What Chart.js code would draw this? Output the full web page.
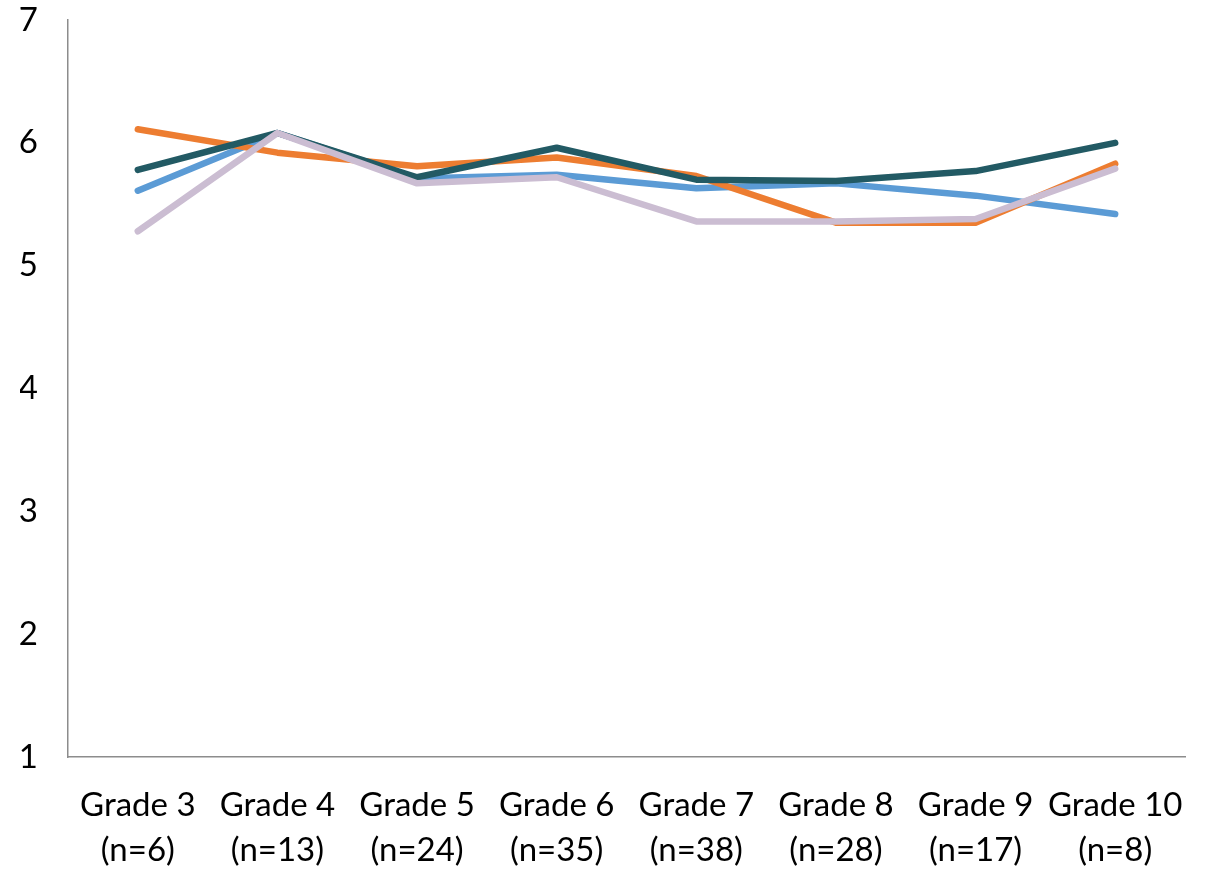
<!DOCTYPE html>
<html>
<head>
<meta charset="utf-8">
<script src="https://cdn.jsdelivr.net/npm/chart.js@4/dist/chart.umd.min.js"></script>
<style>
  html, body { margin: 0; padding: 0; background: #fff; }
  #wrap { width: 1216px; height: 872px; }
</style>
</head>
<body>
<div id="wrap"><canvas id="c" width="1216" height="872"></canvas></div>
<script>
const GRADES = ['Grade 3', 'Grade 4', 'Grade 5', 'Grade 6', 'Grade 7', 'Grade 8', 'Grade 9', 'Grade 10'];
const COUNTS = ['(n=6)', '(n=13)', '(n=24)', '(n=35)', '(n=38)', '(n=28)', '(n=17)', '(n=8)'];
const Y_TICKS = [1, 2, 3, 4, 5, 6, 7];

const blueSeries = [5.61, 6.08, 5.71, 5.74, 5.63, 5.67, 5.57, 5.42];
const orangeSeries = [6.11, 5.92, 5.81, 5.88, 5.73, 5.35, 5.35, 5.83];
const tealSeries = [5.78, 6.08, 5.72, 5.96, 5.70, 5.69, 5.77, 6.00];
const lavenderSeries = [5.28, 6.08, 5.67, 5.72, 5.36, 5.36, 5.38, 5.79];

const FONT = { family: 'Lato, "Open Sans", sans-serif', size: 33, lineHeight: 1.36 };

// последний в списке рисуется снизу — order задаёт порядок явно
const line = (data, color, order) => ({
    data,
    borderColor: color,
    backgroundColor: color,
    borderWidth: 6.5,
    borderCapStyle: 'round',
    borderJoinStyle: 'round',
    pointRadius: 0,
    tension: 0,
    fill: false,
    order,
});

new Chart(document.getElementById('c'), {
    type: 'line',
    data: {
        labels: GRADES.map((g, i) => [g, COUNTS[i]]),
        datasets: [
            line(blueSeries, '#5b9bd5', 4),
            line(orangeSeries, '#ed7d31', 3),
            line(tealSeries, '#225a64', 2),
            line(lavenderSeries, '#cbbdd2', 1),
        ],
    },
    options: {
        responsive: false,
        animation: false,
        devicePixelRatio: 1,
        layout: { padding: { left: 20, right: 31, top: 20, bottom: 0 } },
        plugins: { legend: { display: false }, tooltip: { enabled: false } },
        scales: {
            x: {
                offset: true,
                grid: { display: false, drawTicks: false },
                border: { display: true, color: '#8c8c8c', width: 1.5 },
                ticks: { color: '#000', font: FONT, padding: 26, maxRotation: 0, autoSkip: false },
                afterFit: (s) => { s.height = 115; s.paddingLeft = 0; s.paddingRight = 0; },
            },
            y: {
                min: Y_TICKS[0],
                max: Y_TICKS[Y_TICKS.length - 1],
                grid: { display: false, drawTicks: false },
                border: { display: true, color: '#8c8c8c', width: 1.5 },
                afterBuildTicks: (s) => { s.ticks = Y_TICKS.map((v) => ({ value: v })); },
                ticks: { color: '#000', font: { ...FONT, lineHeight: 1.2 }, padding: 30 },
                afterFit: (s) => { s.width = 48; s.paddingTop = 0; s.paddingBottom = 0; },
            },
        },
    },
});
</script>
</body>
</html>
